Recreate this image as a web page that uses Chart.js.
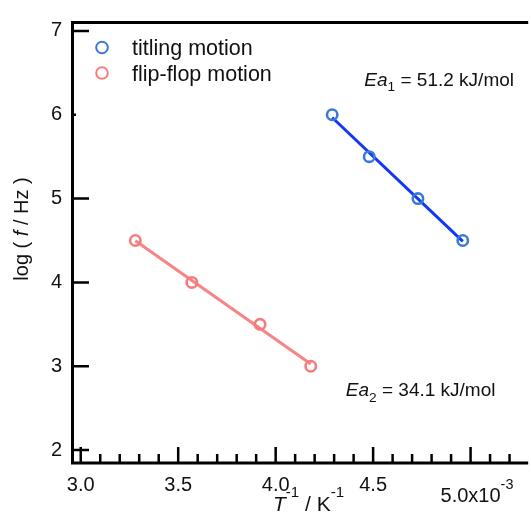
<!DOCTYPE html>
<html><head><meta charset="utf-8">
<script src="https://cdn.jsdelivr.net/npm/chart.js@4.4.0/dist/chart.umd.min.js"></script>
<style>html,body{margin:0;padding:0;background:#fff;overflow:hidden}#wrap{width:531px;height:513px;position:relative}</style>
</head><body><div id="wrap"><canvas id="c" width="531" height="513"></canvas></div>
<script>
// ---- data ----
const seriesNames = ['titling motion', 'flip-flop motion'];
const tiltX = [4.29, 4.48, 4.73, 4.96];
const tiltY = [6.0, 5.5, 5.0, 4.5];
const flipX = [3.28, 3.57, 3.92, 4.18];
const flipY = [4.5, 4.0, 3.5, 3.0];
const xTicks = [3.0, 3.5, 4.0, 4.5, 5.0];
const xTickLabels = ['3.0', '3.5', '4.0', '4.5', '5.0x10'];
const xExponent = '-3';
const yTicks = [2, 3, 4, 5, 6, 7];
const energyLabels = ['51.2 kJ/mol', '34.1 kJ/mol'];

const FONT = '"Liberation Sans", Arial, Helvetica, sans-serif';
const BLUE_PT = '#3b79d8', BLUE_LN = '#1238f5';
const RED_PT = '#f67c7c', RED_LN = '#f78484';

function fit(xs, ys) {
  const n = xs.length;
  const mx = xs.reduce((a, b) => a + b, 0) / n, my = ys.reduce((a, b) => a + b, 0) / n;
  let sxy = 0, sxx = 0;
  for (let i = 0; i < n; i++) { sxy += (xs[i] - mx) * (ys[i] - my); sxx += (xs[i] - mx) ** 2; }
  const b = sxy / sxx, a = my - b * mx;
  const x0 = Math.min(...xs), x1 = Math.max(...xs);
  return [{x: x0, y: a + b * x0}, {x: x1, y: a + b * x1}];
}
const pts = (xs, ys) => xs.map((x, i) => ({x, y: ys[i]}));

function rich(ctx, segs, x, y, size, align) {
  const parts = segs.map(s => {
    const small = s.sup || s.sub;
    const fs = small ? size * 0.72 : size;
    const font = (s.it ? 'italic ' : '') + fs + 'px ' + FONT;
    ctx.font = font;
    return {t: s.t, font, w: ctx.measureText(s.t).width, dy: s.sup ? -size * 0.66 : (s.sub ? size * 0.28 : 0)};
  });
  const total = parts.reduce((a, p) => a + p.w, 0);
  let cx = align === 'center' ? x - total / 2 : x;
  ctx.textAlign = 'left'; ctx.textBaseline = 'alphabetic';
  for (const p of parts) { ctx.font = p.font; ctx.fillText(p.t, cx, y + p.dy); cx += p.w; }
}

const deco = {
  id: 'deco',
  afterDraw(chart) {
    const {ctx, chartArea: a, scales: {x, y}} = chart;
    ctx.save();
    ctx.strokeStyle = '#000'; ctx.fillStyle = '#111';
    // frame: top border, left axis, bottom axis
    ctx.lineWidth = 3;
    ctx.beginPath();
    ctx.moveTo(a.right + 5, a.top + 1.5); ctx.lineTo(a.left + 1.5, a.top + 1.5);
    ctx.lineTo(a.left + 1.5, a.bottom + 2); ctx.lineTo(a.right + 5, a.bottom + 2);
    ctx.stroke();
    // y ticks (inside)
    ctx.lineWidth = 2.5;
    ctx.beginPath();
    yTicks.forEach(v => {
      const py = y.getPixelForValue(v);
      ctx.moveTo(a.left, py); ctx.lineTo(a.left + (v === 6 ? 5 : 18), py);
    });
    ctx.stroke();
    // x ticks (inside), majors + minors every 0.1
    ctx.beginPath();
    for (let k = 30; k <= 53; k++) {
      const v = k / 10; const px = x.getPixelForValue(v);
      if (px > a.right) break;
      const major = k % 5 === 0;
      ctx.moveTo(px, a.bottom + 1); ctx.lineTo(px, a.bottom + 1 - (major ? 15 : 8));
    }
    ctx.stroke();
    // last x tick label with exponent
    const px5 = x.getPixelForValue(xTicks[xTicks.length - 1]);
    ctx.font = '20px ' + FONT;
    const w5 = ctx.measureText(xTickLabels[xTickLabels.length - 1]).width;
    rich(ctx, [{t: xTickLabels[xTickLabels.length - 1]}, {t: xExponent, sup: true}], px5 - w5 / 2, 502, 20, 'left');
    // legend
    const legendItems = [[seriesNames[0], BLUE_PT], [seriesNames[1], RED_PT]];
    legendItems.forEach(([name, col], i) => {
      const cy = 47.5 + i * 25.5;
      ctx.strokeStyle = col; ctx.lineWidth = 2;
      ctx.beginPath(); ctx.arc(102, cy, 5.8, 0, Math.PI * 2); ctx.stroke();
      ctx.fillStyle = '#111'; ctx.font = '21.5px ' + FONT;
      ctx.textAlign = 'left'; ctx.textBaseline = 'alphabetic';
      ctx.fillText(name, 132, cy + 7.5);
    });
    // annotations
    ctx.fillStyle = '#111';
    rich(ctx, [{t: 'Ea', it: true}, {t: '1', sub: true}, {t: ' = ' + energyLabels[0]}],
      x.getPixelForValue(4.455), y.getPixelForValue(6.345), 19, 'left');
    rich(ctx, [{t: 'Ea', it: true}, {t: '2', sub: true}, {t: ' = ' + energyLabels[1]}],
      x.getPixelForValue(4.36), y.getPixelForValue(2.64), 19, 'left');
    // axis titles
    rich(ctx, [{t: 'T', it: true}, {t: '-1', sup: true}, {t: ' / K'}, {t: '-1', sup: true}],
      308.5, 511, 21, 'center');
    ctx.save();
    ctx.translate(28, (a.top + a.bottom) / 2 - 12);
    ctx.rotate(-Math.PI / 2);
    rich(ctx, [{t: 'log ( '}, {t: 'f', it: true}, {t: ' / Hz )'}], 0, 0, 20, 'center');
    ctx.restore();
    ctx.restore();
  }
};

const tiltFit = fit(tiltX, tiltY);
const flipFit = fit(flipX, flipY);

new Chart(document.getElementById('c'), {
  type: 'scatter',
  data: {
    datasets: [
      {label: seriesNames[0], data: pts(tiltX, tiltY), showLine: false, pointStyle: 'circle', pointRadius: 5.2,
        pointBorderWidth: 2.6, borderColor: BLUE_PT, backgroundColor: 'rgba(0,0,0,0)', order: 0},
      {label: seriesNames[1], data: pts(flipX, flipY), showLine: false, pointStyle: 'circle', pointRadius: 5.2,
        pointBorderWidth: 2.6, borderColor: RED_PT, backgroundColor: 'rgba(0,0,0,0)', order: 0},
      {label: 'fit1', data: tiltFit, showLine: true, pointRadius: 0, borderColor: BLUE_LN, borderWidth: 3, order: 1},
      {label: 'fit2', data: flipFit, showLine: true, pointRadius: 0, borderColor: RED_LN, borderWidth: 3, order: 1}
    ]
  },
  options: {
    responsive: false, animation: false, devicePixelRatio: 1,
    layout: {padding: {top: 15, left: 0, right: 0, bottom: 0}},
    plugins: {legend: {display: false}, tooltip: {enabled: false}},
    scales: {
      x: {
        type: 'linear', min: 2.95, max: 5.27,
        afterBuildTicks: s => { s.ticks = xTicks.map(v => ({value: v})); },
        afterFit: s => { s.height = 52; },
        grid: {display: false, drawTicks: false},
        border: {display: false},
        ticks: {
          font: {size: 20, family: FONT}, color: '#111', padding: 12, maxRotation: 0, autoSkip: false,
          callback: (v, i) => i === xTicks.length - 1 ? '' : xTickLabels[i]
        }
      },
      y: {
        type: 'linear', min: 1.87, max: 7.118,
        afterBuildTicks: s => { s.ticks = yTicks.map(v => ({value: v})); },
        afterFit: s => { s.width = 71; },
        grid: {display: false, drawTicks: false},
        border: {display: false},
        ticks: {font: {size: 20, family: FONT}, color: '#111', padding: 9, callback: v => String(v)}
      }
    }
  },
  plugins: [deco]
});
</script>
</body></html>
